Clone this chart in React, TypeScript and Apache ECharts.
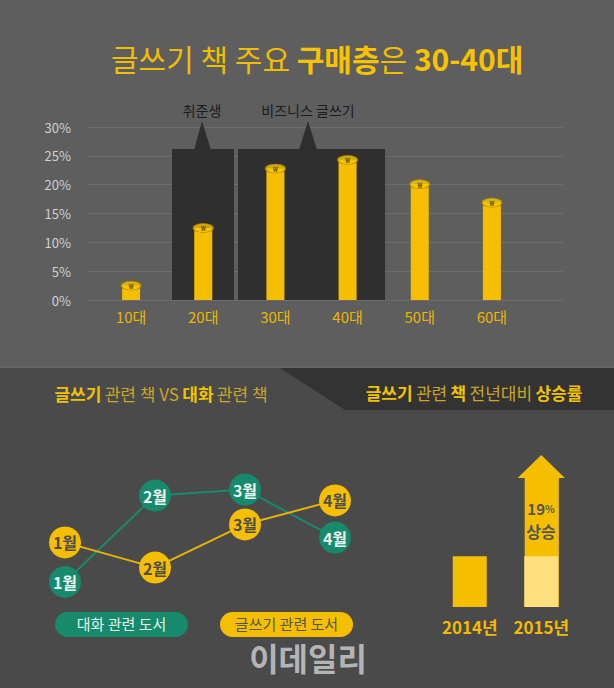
import React, { useEffect, useRef } from "react";
import * as echarts from "echarts";

// ---- data ----
const ages = ["10대", "20대", "30대", "40대", "50대", "60대"];
const shares = [2.5, 12.5, 22.8, 24.3, 20.1, 16.9];
const shareTicks = [0, 5, 10, 15, 20, 25, 30];

const months = ["1월", "2월", "3월", "4월"];
const talkBooks = [15, 87, 92, 52];
const writingBooks = [48, 27, 63, 83];

const years = ["2014년", "2015년"];
const yearBase = [50, 50];
const arrowTop: (number | string)[] = ["-", 150];

const FONT = "'Noto Sans CJK KR', 'Noto Sans', sans-serif";
const YELLOW = "#f5bf00";
const GREEN = "#178a6c";

export default function App() {
  const ref = useRef<HTMLDivElement>(null);
  useEffect(() => {
    if (!ref.current) return;
    const chart = echarts.init(ref.current, null, { renderer: "svg" });
    const arrowPath =
      "path://M7,23 L0,23 L23.5,0 L47,23 L41,23 L41,152 L7,152 Z";
    const option: any = {
      animation: false,
      backgroundColor: "#4a4a4a",
      textStyle: { fontFamily: FONT },
      title: {
        text: "{r|글쓰기 책 주요 }{b|구매층}{r|은 }{b|30-40대}",
        left: 106,
        top: 38,
        textStyle: {
          fontSize: 30,
          fontFamily: FONT,
          rich: {
            r: { fontSize: 30, color: "#f0bd00", fontWeight: "normal", fontFamily: FONT },
            b: { fontSize: 30, color: "#f7c300", fontWeight: "bold", fontFamily: FONT },
          },
        },
      },
      grid: [
        { left: 88, right: 51, top: 127, bottom: 388 },
        { left: 95, width: 433, top: 127, bottom: 388 },
        { left: 65, right: 279, top: 480, bottom: 88 },
        { left: 434, width: 143, top: 455, bottom: 81 },
      ],
      xAxis: [
        { gridIndex: 0, type: "value", min: 0, max: 1, show: false },
        {
          gridIndex: 1,
          type: "category",
          data: ages,
          axisLine: { show: false },
          axisTick: { show: false },
          axisLabel: { color: "#e8b600", fontSize: 15, margin: 9, fontFamily: FONT, interval: 0 },
        },
        {
          gridIndex: 2,
          type: "category",
          data: months,
          boundaryGap: false,
          show: false,
        },
        {
          gridIndex: 3,
          type: "category",
          data: years,
          axisLine: { show: false },
          axisTick: { show: false },
          axisLabel: {
            color: "#f2bb00",
            fontSize: 17,
            fontWeight: "bold",
            margin: 11,
            interval: 0,
            fontFamily: FONT,
          },
        },
      ],
      yAxis: [
        {
          gridIndex: 0,
          type: "value",
          min: shareTicks[0],
          max: shareTicks[shareTicks.length - 1],
          interval: 5,
          axisLine: { show: false },
          axisTick: { show: false },
          axisLabel: {
            formatter: "{value}%",
            color: "#d0d0d0",
            fontSize: 13,
            margin: 17,
            fontFamily: FONT,
          },
          splitLine: { lineStyle: { color: "#6c6c6c", width: 1 } },
        },
        { gridIndex: 1, type: "value", min: 0, max: 30, show: false },
        { gridIndex: 2, type: "value", min: 0, max: 100, show: false },
        { gridIndex: 3, type: "value", min: 0, max: 150, show: false },
      ],
      series: [
        {
          type: "bar",
          xAxisIndex: 1,
          yAxisIndex: 1,
          data: shares,
          barWidth: 18,
          itemStyle: { color: YELLOW },
          z: 3,
        },
        {
          type: "scatter",
          xAxisIndex: 1,
          yAxisIndex: 1,
          data: shares,
          symbol: "circle",
          symbolSize: [20, 9],
          itemStyle: { color: "#f8c800", borderColor: "#a67c00", borderWidth: 1 },
          label: {
            show: true,
            position: "inside",
            formatter: "₩",
            fontSize: 8,
            fontWeight: "bold",
            color: "#5a4400",
          },
          z: 4,
        },
        {
          type: "line",
          xAxisIndex: 2,
          yAxisIndex: 2,
          data: talkBooks,
          symbol: "circle",
          symbolSize: 32,
          lineStyle: { color: "#1a8a6c", width: 2 },
          itemStyle: { color: GREEN },
          label: {
            show: true,
            position: "inside",
            formatter: (p: any) => p.name,
            color: "#eef6f1",
            fontSize: 16,
            fontWeight: "bold",
            fontFamily: FONT,
          },
          z: 3,
        },
        {
          type: "line",
          xAxisIndex: 2,
          yAxisIndex: 2,
          data: writingBooks,
          symbol: "circle",
          symbolSize: 32,
          lineStyle: { color: "#e9b400", width: 2 },
          itemStyle: { color: YELLOW },
          label: {
            show: true,
            position: "inside",
            formatter: (p: any) => p.name,
            color: "#4d4d4d",
            fontSize: 16,
            fontWeight: "bold",
            fontFamily: FONT,
          },
          z: 4,
        },
        {
          type: "pictorialBar",
          xAxisIndex: 3,
          yAxisIndex: 3,
          data: arrowTop,
          symbol: arrowPath,
          symbolSize: [47, "100%"],
          symbolPosition: "start",
          itemStyle: { color: YELLOW },
          z: 2,
        },
        {
          type: "bar",
          xAxisIndex: 3,
          yAxisIndex: 3,
          barWidth: 34,
          data: yearBase.map((v, i) => ({
            value: v,
            itemStyle: { color: i === 0 ? YELLOW : "#ffdf7e" },
          })),
          z: 3,
        },
      ],
      graphic: [
        { type: "rect", shape: { x: 0, y: 0, width: 614, height: 368 }, style: { fill: "#5e5e5e" }, z: -10 },
        { type: "rect", shape: { x: 0, y: 366, width: 614, height: 2 }, style: { fill: "#666666" }, z: -9 },
        {
          type: "polygon",
          shape: { points: [[280, 368], [614, 368], [614, 410], [345, 410]] },
          style: { fill: "#333333" },
          z: -8,
        },
        // dark highlight boxes
        { type: "rect", shape: { x: 172, y: 149, width: 62, height: 151 }, style: { fill: "#2f2f2f" }, z: 1 },
        { type: "rect", shape: { x: 238, y: 149, width: 147, height: 151 }, style: { fill: "#2f2f2f" }, z: 1 },
        { type: "polygon", shape: { points: [[194, 150], [202, 121], [211, 150]] }, style: { fill: "#2f2f2f" }, z: 1 },
        { type: "polygon", shape: { points: [[299, 150], [308, 121], [317, 150]] }, style: { fill: "#2f2f2f" }, z: 1 },
        {
          type: "text",
          x: 202,
          y: 110,
          style: { text: "취준생", fill: "#1c1c1c", fontSize: 14, fontFamily: FONT, align: "center", verticalAlign: "middle" },
          z: 5,
        },
        {
          type: "text",
          x: 308,
          y: 110,
          style: { text: "비즈니스 글쓰기", fill: "#1c1c1c", fontSize: 14, fontFamily: FONT, align: "center", verticalAlign: "middle" },
          z: 5,
        },
        // section headers
        {
          type: "text",
          x: 161,
          y: 393,
          style: {
            text: "{b|글쓰기} {r|관련 책 VS} {b|대화} {r|관련 책}",
            align: "center",
            verticalAlign: "middle",
            rich: {
              b: { fontSize: 17, fontWeight: "bold", fill: "#f2c200", fontFamily: FONT },
              r: { fontSize: 17, fill: "#c9a52a", fontFamily: FONT },
            },
          },
          z: 5,
        },
        {
          type: "text",
          x: 474,
          y: 392,
          style: {
            text: "{b|글쓰기} {r|관련} {b|책} {r|전년대비} {b|상승률}",
            align: "center",
            verticalAlign: "middle",
            rich: {
              b: { fontSize: 17, fontWeight: "bold", fill: "#f2c200", fontFamily: FONT },
              r: { fontSize: 17, fill: "#c9a52a", fontFamily: FONT },
            },
          },
          z: 5,
        },
        // legend pills
        { type: "rect", shape: { x: 55, y: 612, width: 133, height: 25, r: 12.5 }, style: { fill: GREEN }, z: 5 },
        {
          type: "text",
          x: 121.5,
          y: 623.5,
          style: { text: "대화 관련 도서", fill: "#e4f1ea", fontSize: 15, fontFamily: FONT, align: "center", verticalAlign: "middle" },
          z: 6,
        },
        { type: "rect", shape: { x: 220, y: 612, width: 133, height: 25, r: 12.5 }, style: { fill: YELLOW }, z: 5 },
        {
          type: "text",
          x: 286.5,
          y: 623.5,
          style: { text: "글쓰기 관련 도서", fill: "#555555", fontSize: 15, fontFamily: FONT, align: "center", verticalAlign: "middle" },
          z: 6,
        },
        // arrow annotation
        {
          type: "text",
          x: 541,
          y: 508,
          style: {
            text: "{n|19}{p|%}",
            align: "center",
            verticalAlign: "middle",
            rich: {
              n: { fontSize: 15, fontWeight: "bold", fill: "#555555", fontFamily: FONT },
              p: { fontSize: 10, fontWeight: "bold", fill: "#555555", fontFamily: FONT },
            },
          },
          z: 10,
        },
        {
          type: "text",
          x: 541,
          y: 531,
          style: { text: "상승", fill: "#555555", fontSize: 16, fontWeight: "bold", fontFamily: FONT, align: "center", verticalAlign: "middle" },
          z: 10,
        },
        // watermark
        {
          type: "text",
          x: 308,
          y: 657,
          style: {
            text: "이데일리",
            fill: "#b4b4b4",
            fontSize: 32,
            fontWeight: "bold",
            fontFamily: FONT,
            align: "center",
            verticalAlign: "middle",
            shadowColor: "rgba(0,0,0,0.6)",
            shadowBlur: 3,
            shadowOffsetX: 2,
            shadowOffsetY: 2,
          },
          z: 20,
        },
      ],
    };
    chart.setOption(option);
    return () => chart.dispose();
  }, []);
  return (
    <div
      ref={ref}
      style={{ width: 614, height: 688, position: "fixed", left: 0, top: 0 }}
    />
  );
}
